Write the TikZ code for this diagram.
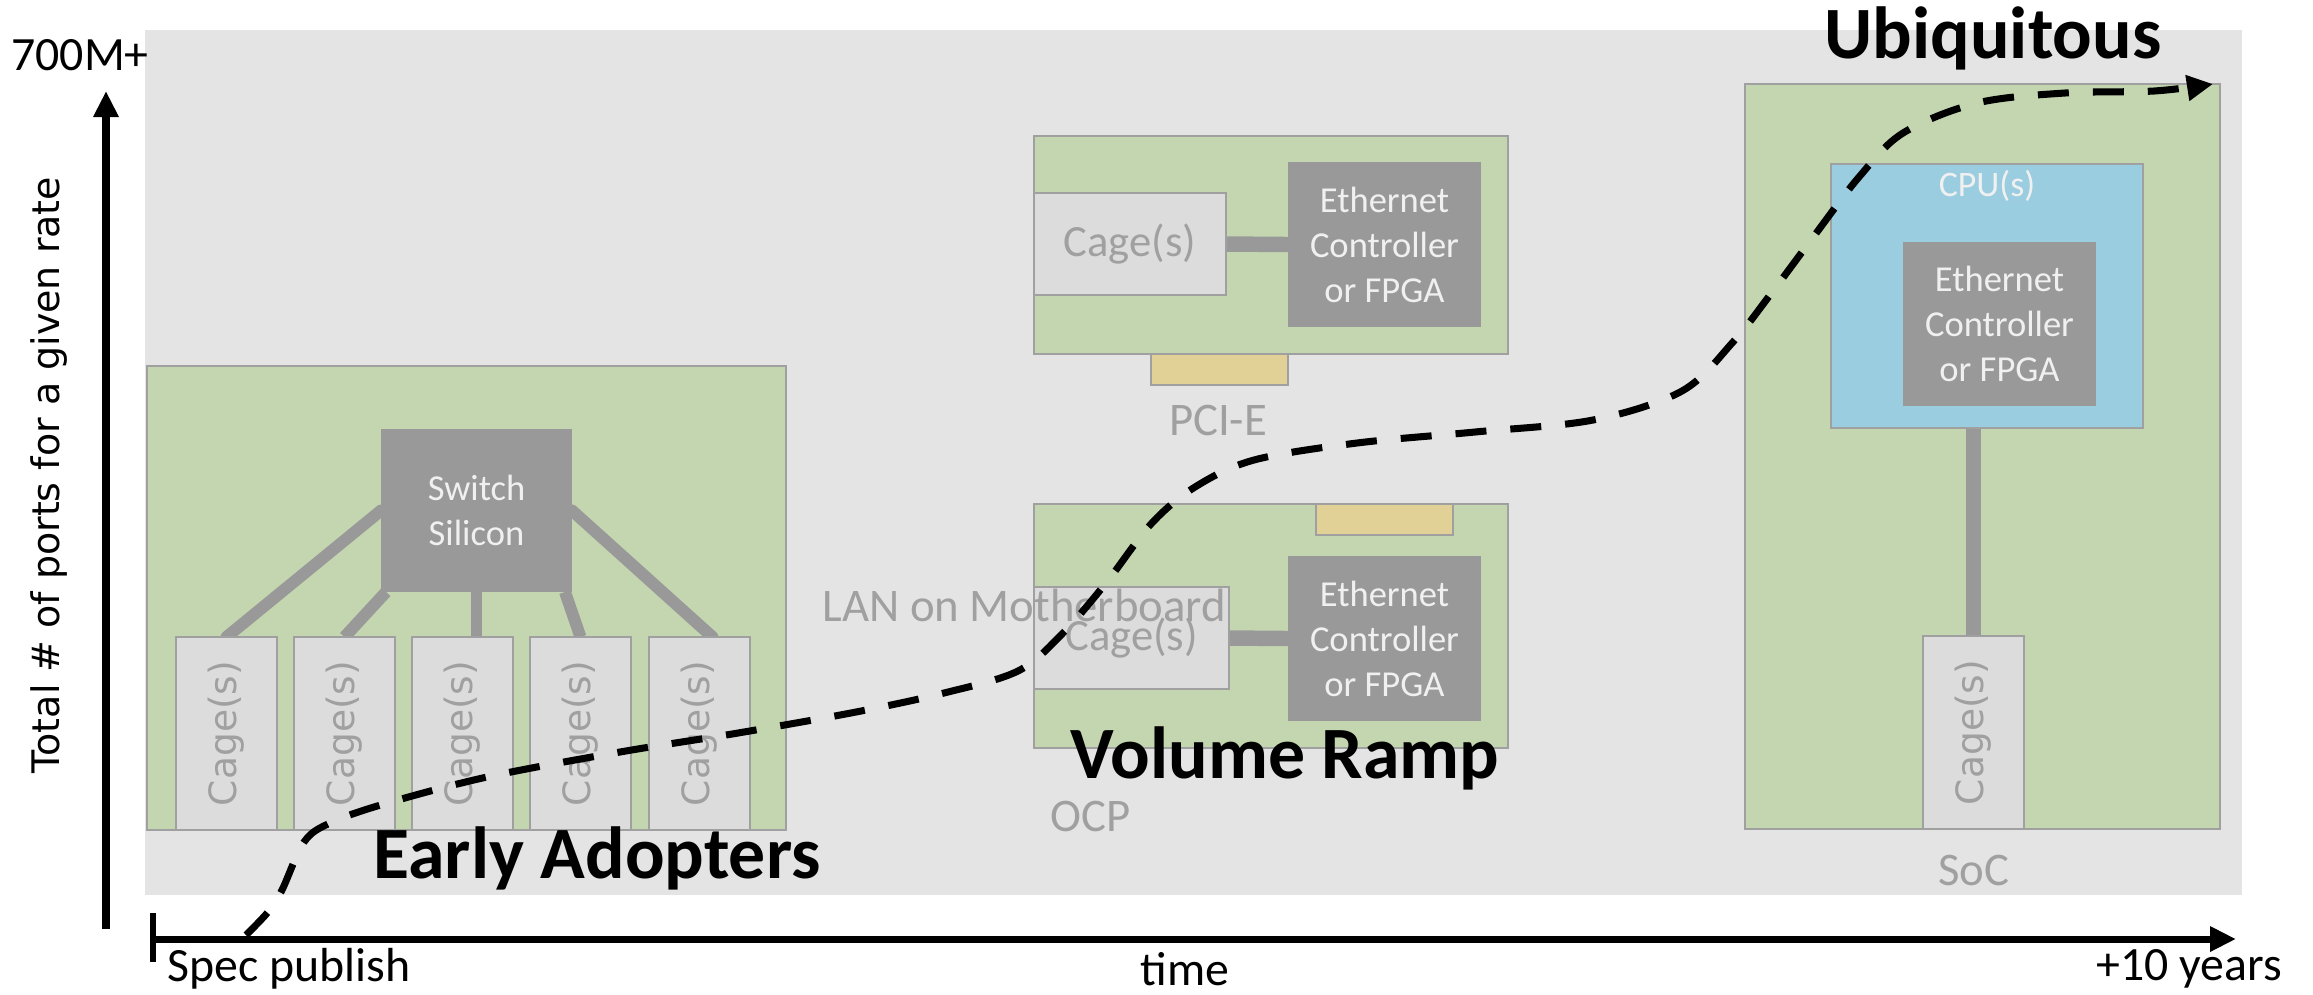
\documentclass[tikz,border=0pt]{standalone}
\usepackage{fontspec}
\setmainfont{Carlito}
\newfontfamily\dvs{DejaVu Sans}
\usetikzlibrary{arrows.meta}
\definecolor{bgc}{HTML}{E4E4E4}
\definecolor{boardc}{HTML}{C4D6B0}
\definecolor{edgec}{HTML}{A0A0A0}
\definecolor{cagec}{HTML}{DCDCDC}
\definecolor{chipc}{HTML}{999999}
\definecolor{chiptext}{HTML}{F0F0F0}
\definecolor{cpuc}{HTML}{9BCDE0}
\definecolor{pcic}{HTML}{E2D196}
\definecolor{labelc}{HTML}{A0A0A0}
\pgfdeclarelayer{back}
\pgfdeclarelayer{wires}
\pgfsetlayers{back,wires,main}
\begin{document}
\begin{tikzpicture}[x=0.1mm,y=-0.1mm,
  board/.style={draw=edgec, fill=boardc, line width=0.7pt, anchor=north west, inner sep=0pt, outer sep=0pt},
  cagebox/.style={draw=edgec, fill=cagec, line width=0.7pt, anchor=north west, inner sep=0pt, outer sep=0pt, text=labelc},
  vcage/.style={cagebox, minimum width=10.1mm, minimum height=19.3mm, font=\dvs\fontsize{10.7}{12}\selectfont},
  hcage/.style={cagebox, minimum height=10.2mm, font=\fontsize{12.7}{15}\selectfont},
  chip/.style={fill=chipc, anchor=north west, inner sep=0pt, outer sep=0pt, text=chiptext, align=center, font=\fontsize{10.4}{12.8}\selectfont},
  ethbox/.style={chip, minimum width=19.3mm, minimum height=16.5mm},
  pcislot/.style={draw=edgec, fill=pcic, line width=0.7pt, anchor=north west, inner sep=0pt, outer sep=0pt, minimum width=13.7mm, minimum height=3.1mm},
  wire/.style={draw=chipc, line width=3.4pt},
  thickwire/.style={draw=chipc, line width=4.4pt},
  graylabel/.style={text=labelc, inner sep=0pt, font=\fontsize{13.3}{15}\selectfont},
  phase/.style={text=black, inner sep=0pt, font=\bfseries\fontsize{21}{24}\selectfont},
  axislabel/.style={text=black, inner sep=0pt, font=\fontsize{13.6}{16}\selectfont},
  axisline/.style={line width=2pt, -{Triangle[length=7.4pt,width=6.8pt]}},
  trend/.style={line width=2pt, dash pattern=on 3.1mm off 2.4mm, -{Triangle[length=7.4pt,width=7pt]}}
]
\useasboundingbox (0,0) rectangle (2313,994);

\begin{pgfonlayer}{back}
\fill[bgc] (145,30) rectangle (2242,895);
\node[board, minimum width=63.9mm, minimum height=46.4mm] (sw board) at (147,366) {};
\node[board, minimum width=47.4mm, minimum height=21.8mm] (pci card) at (1034,136) {};
\node[board, minimum width=47.4mm, minimum height=24.4mm] (lom card) at (1034,504) {};
\node[board, minimum width=47.5mm, minimum height=74.5mm] (soc board) at (1745,84) {};
\end{pgfonlayer}

% ---- switch board
\node[chip, minimum width=19.1mm, minimum height=16.3mm] (sw) at (381,429) {Switch\\Silicon};
\node[vcage] (c1) at (176,637) {\rotatebox{90}{Cage(s)}};
\node[vcage] (c2) at (294,637) {\rotatebox{90}{Cage(s)}};
\node[vcage] (c3) at (412,637) {\rotatebox{90}{Cage(s)}};
\node[vcage] (c4) at (530,637) {\rotatebox{90}{Cage(s)}};
\node[vcage] (c5) at (649,637) {\rotatebox{90}{Cage(s)}};
\begin{pgfonlayer}{wires}
\draw[wire, line cap=round] (sw.west) -- (c1.north);
\draw[wire] ([xshift=0.5mm]sw.south west) -- (c2.north);
\draw[wire] (sw.south) -- (sw.south |- c3.north);
\draw[wire] ([xshift=-0.7mm]sw.south east) -- (c4.north);
\draw[wire, line cap=round] (sw.east) -- ([xshift=1.3mm]c5.north);
\end{pgfonlayer}

% ---- PCI-E card
\node[hcage, minimum width=19.2mm] (pci cage) at (1034,193) {Cage(s)};
\node[ethbox] (pci eth) at (1288,162) {Ethernet\\Controller\\or FPGA};
\node[pcislot] (pci slot) at (1151,354) {};
\node[graylabel] (pci label) at (1218,420) {PCI-E};
\begin{pgfonlayer}{wires}
\draw[thickwire] (pci cage.east) -- (pci eth.west);
\end{pgfonlayer}

% ---- LAN on motherboard / OCP card
\node[pcislot] (lom slot) at (1316,504) {};
\node[hcage, minimum width=19.5mm] (lom cage) at (1034,587) {Cage(s)};
\node[ethbox] (lom eth) at (1288,556) {Ethernet\\Controller\\or FPGA};
\begin{pgfonlayer}{wires}
\draw[thickwire] (lom cage.east) -- (lom eth.west);
\end{pgfonlayer}
\node[graylabel, anchor=west] (lan label) at (822,605) {LAN on Motherboard};
\node[graylabel, anchor=west] (ocp label) at (1050,816) {OCP};

% ---- SoC board
\node[draw=edgec, fill=cpuc, line width=0.7pt, anchor=north west, inner sep=0pt, outer sep=0pt,
      minimum width=31.2mm, minimum height=26.4mm] (cpu) at (1831,164) {};
\node[text=chiptext, inner sep=0pt, font=\fontsize{10.2}{12}\selectfont] (cpu label) at (1987,186) {CPU(s)};
\node[ethbox, minimum height=16.4mm] (soc eth) at (1903,242) {Ethernet\\Controller\\or FPGA};
\node[vcage] (soc cage) at (1923,636) {\rotatebox{90}{Cage(s)}};
\begin{pgfonlayer}{wires}
\draw[thickwire] (cpu.south -| soc cage.north) -- (soc cage.north);
\end{pgfonlayer}
\node[graylabel] (soc label) at (1974,870) {SoC};

% ---- phase labels
\node[phase] (early) at (597,858) {Early Adopters};
\node[phase] (volume) at (1285,758) {Volume Ramp};
\node[phase] (ubiq) at (1993,38) {Ubiquitous};

% ---- axes
\coordinate (ybot) at (106,929);
\coordinate (ytop) at (106,91);
\coordinate (xorig) at (153,939);
\coordinate (xend) at (2236,939);
\coordinate (tick top) at (153,913);
\coordinate (tick bot) at (153,962);
\draw[axisline] (ybot) -- (ytop);
\draw[axisline] (xorig) -- (xend);
\draw[line width=1.6pt] (tick top) -- (tick bot);
\node[axislabel] (ymax) at (80,55) {700M+};
\node[text=black, inner sep=0pt, rotate=90, font=\dvs\fontsize{10.8}{13}\selectfont] (ylab) at (49,475) {Total \# of ports for a given rate};
\node[axislabel, anchor=west] (spec) at (167,969) {Spec publish};
\node[axislabel] (time) at (1185,969) {time};
\node[axislabel] (plus10) at (2189,969) {+10 years};

% ---- adoption curve
\draw[trend] plot[smooth, tension=0.55] coordinates {(246,935) (268,912) (282,890) (304,842) (330,823) (384,804) (487,777) (620,752) (738,733) (856,712) (944,693) (1018,671) (1062,634) (1106,583) (1151,524) (1195,487) (1254,460) (1357,443) (1475,432) (1593,420) (1682,391) (1733,342) (1770,295) (1814,236) (1859,177) (1903,133) (1977,103) (2065,93) (2154,91) (2213,84)};
\end{tikzpicture}
\end{document}
